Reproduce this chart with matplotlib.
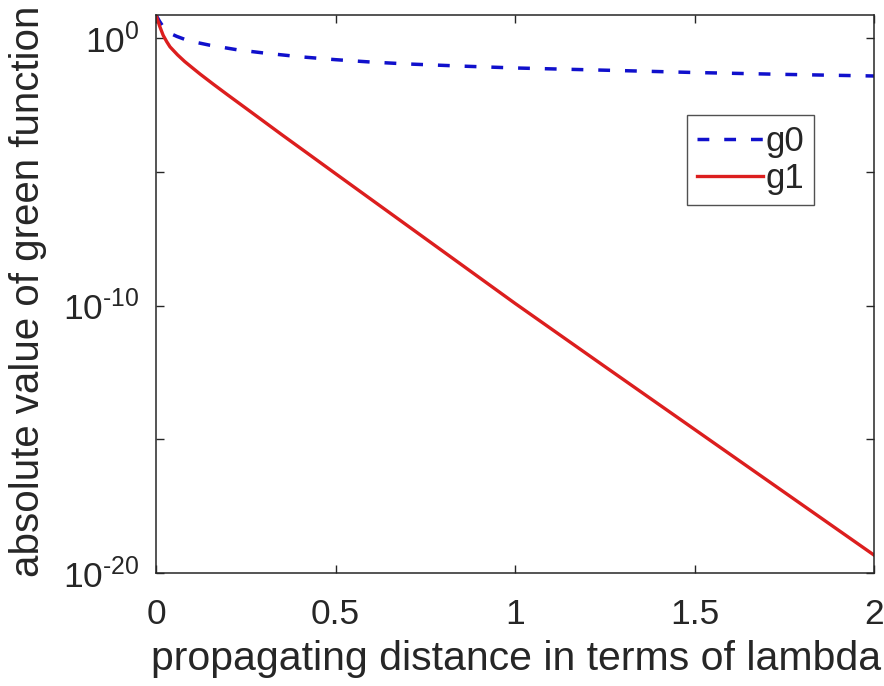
import numpy as np
import matplotlib
matplotlib.use("Agg")
import matplotlib.pyplot as plt
from matplotlib.ticker import FixedLocator, FixedFormatter, NullLocator

# propagating distance (in wavelengths) and log10 of |g| for each series
g0_x = [0.0, 0.01, 0.02, 0.03, 0.045, 0.058, 0.08, 0.1, 0.15, 0.226, 0.3,
        0.4, 0.5, 0.6, 0.7, 0.85, 1.0, 1.15, 1.3, 1.5, 1.75, 2.0]
g0_log = [0.86, 0.62, 0.42, 0.27, 0.14, 0.06, -0.05, -0.13, -0.27, -0.44, -0.56,
          -0.70, -0.81, -0.90, -0.97, -1.05, -1.12, -1.17, -1.22, -1.29, -1.36, -1.42]

g1_x = [0.0, 0.01, 0.02, 0.03, 0.039, 0.06, 0.08, 0.1, 0.123, 0.16, 0.2, 0.262,
        0.35, 0.42, 0.5, 0.6, 0.7, 0.8, 0.9, 1.0, 1.25, 1.5, 1.75, 2.0]
g1_log = [0.86, 0.45, 0.10, -0.14, -0.33, -0.63, -0.88, -1.10, -1.35, -1.73, -2.13,
          -2.74, -3.61, -4.29, -5.07, -6.04, -7.01, -7.98, -8.95, -9.92, -12.28,
          -14.63, -16.98, -19.33]

x_ticks = [0, 0.5, 1, 1.5, 2]
x_tick_labels = ["0", "0.5", "1", "1.5", "2"]
y_tick_exps = [0, -5, -10, -15, -20]
y_label_exps = [0, -10, -20]

plt.rcParams['font.family'] = ['Liberation Sans', 'DejaVu Sans']
plt.rcParams['mathtext.fontset'] = 'custom'
plt.rcParams['mathtext.rm'] = 'Liberation Sans'
plt.rcParams['mathtext.it'] = 'Liberation Sans'
plt.rcParams['axes.unicode_minus'] = False

fig = plt.figure(figsize=(8.84, 6.86), dpi=100)
ax = fig.add_axes([156/884, 1 - 573/686, (874-156)/884, (573-15)/686])

g0 = 10.0 ** np.array(g0_log)
g1 = 10.0 ** np.array(g1_log)

ax.semilogy(g0_x, g0, color='#1010cc', lw=2.5, dashes=(3.4, 4.3), label='g0')
ax.semilogy(g1_x, g1, color='#dc1e1e', lw=2.4, label='g1')

ax.set_xlim(0, 2)
ax.set_ylim(1e-20, 10 ** 0.86)


def decade_label(e):
    # short hyphen for negative exponents, as in the axis style used here
    exp = str(e) if e >= 0 else r'\text{-}' + str(-e)
    return r'$\mathregular{10^{%s}}$' % exp


txt = '#262626'
ax.xaxis.set_major_locator(FixedLocator(x_ticks))
ax.xaxis.set_major_formatter(FixedFormatter(x_tick_labels))
ax.xaxis.set_minor_locator(NullLocator())
ax.yaxis.set_major_locator(FixedLocator([10.0 ** e for e in y_tick_exps]))
ax.yaxis.set_major_formatter(FixedFormatter(
    [decade_label(e) if e in y_label_exps else '' for e in y_tick_exps]))
ax.yaxis.set_minor_locator(NullLocator())

ax.tick_params(axis='both', which='major', direction='in', length=6, width=1,
               top=True, right=True, labelsize=25.5, colors=txt)
ax.tick_params(axis='x', pad=18)
ax.tick_params(axis='y', pad=12)
for s in ax.spines.values():
    s.set_color(txt)
    s.set_linewidth(1.1)

ax.set_xlabel('propagating distance in terms of lambda', fontsize=29.5, color=txt,
              va='center')
ax.xaxis.set_label_coords(0.501, -(659 - 573) / 558)
ax.set_ylabel('absolute value of green function', fontsize=29, color=txt,
              va='center')
ax.yaxis.set_label_coords(-(156 - 28) / 718, 0.505)

leg = ax.legend(loc='upper left', bbox_to_anchor=((687-156)/718, 1 - (115-15)/558),
                fontsize=25, frameon=True, fancybox=False, handlelength=1.9,
                handletextpad=0.05, borderpad=0.3, labelspacing=0.1,
                borderaxespad=0)
leg.get_frame().set_edgecolor(txt)
leg.get_frame().set_linewidth(1.0)
for t in leg.get_texts():
    t.set_color(txt)

fig.savefig('out.png', dpi=100)
